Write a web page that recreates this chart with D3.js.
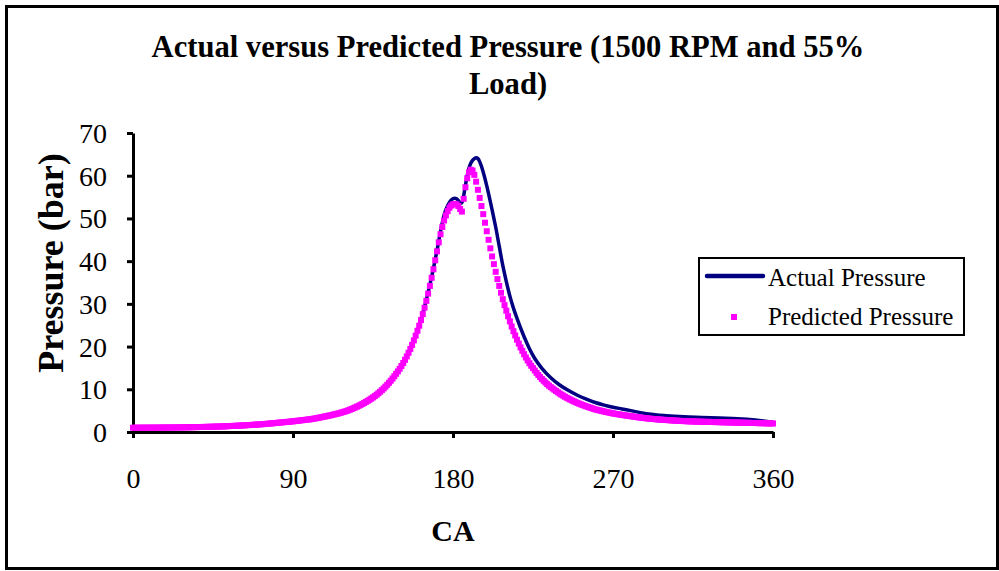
<!DOCTYPE html>
<html>
<head>
<meta charset="utf-8">
<script src="https://cdn.jsdelivr.net/npm/d3@7"></script>
<style>
  html, body { margin: 0; padding: 0; background: #fff; }
  svg { display: block; }
  text { font-family: "Liberation Serif", "Times New Roman", serif; fill: #000; }
</style>
</head>
<body>
<svg id="chart" width="999" height="571"></svg>
<script>
// Chart texts
const titleLines = ["Actual versus Predicted Pressure (1500 RPM and 55%", "Load)"];
const xTitle = "CA";
const yTitle = "Pressure (bar)";
const seriesNames = ["Actual Pressure", "Predicted Pressure"];

// Axis ticks
const xTicks = [0, 90, 180, 270, 360];
const yTicks = [0, 10, 20, 30, 40, 50, 60, 70];

// Measured cylinder pressure (bar) at the given crank angles (deg)
const actualCA = [0, 20, 40, 60, 80, 90, 100, 110, 120, 130, 140, 150, 155, 160, 163, 165, 167, 169, 171, 173,
  175, 177, 179, 181, 182, 183, 184, 185, 186, 187, 188, 189, 190, 191, 192, 193, 194, 195, 196, 197,
  198, 199, 200, 202, 204, 206, 208, 210, 212, 214, 216, 220, 223, 226, 230, 235, 240, 245, 250, 255,
  260, 265, 270, 275, 280, 290, 300, 310, 320, 330, 340, 350, 360];
const actualP = [1.0, 1.05, 1.19, 1.5, 2.1, 2.5, 3.0, 3.8, 4.9, 6.8, 9.8, 14.8, 18.55, 23.7, 27.8, 31.0, 34.5, 38.3, 42.5, 47.0,
  50.8, 53.0, 54.3, 54.7, 54.6, 54.2, 53.7, 53.6, 55.3, 57.8, 60.0, 61.8, 62.9, 63.6, 64.0, 64.2, 64.0, 63.3, 62.2, 60.8,
  59.3, 57.6, 55.8, 52.0, 48.0, 43.5, 39.0, 35.2, 31.8, 29.0, 26.6, 22.3, 19.5, 17.2, 14.9, 12.7, 11.0, 9.7, 8.6, 7.7,
  6.9, 6.3, 5.8, 5.4, 5.0, 4.2, 3.8, 3.55, 3.4, 3.25, 3.1, 2.8, 2.3];

// Predicted cylinder pressure (bar), one value per crank degree from 0 to 360
const predictedP = [
  1.00, 1.00, 1.00, 1.00, 1.00, 1.01, 1.01, 1.01, 1.01, 1.01,
  1.02, 1.02, 1.02, 1.02, 1.03, 1.03, 1.03, 1.04, 1.04, 1.04,
  1.05, 1.05, 1.06, 1.06, 1.07, 1.07, 1.08, 1.08, 1.09, 1.09,
  1.10, 1.11, 1.11, 1.12, 1.13, 1.14, 1.15, 1.16, 1.17, 1.18,
  1.19, 1.20, 1.21, 1.22, 1.23, 1.24, 1.25, 1.27, 1.28, 1.29,
  1.30, 1.32, 1.34, 1.36, 1.38, 1.40, 1.42, 1.44, 1.46, 1.48,
  1.50, 1.52, 1.54, 1.57, 1.59, 1.62, 1.64, 1.67, 1.70, 1.72,
  1.75, 1.78, 1.81, 1.84, 1.87, 1.91, 1.94, 1.98, 2.02, 2.06,
  2.10, 2.14, 2.18, 2.22, 2.26, 2.30, 2.34, 2.38, 2.42, 2.46,
  2.50, 2.55, 2.60, 2.65, 2.70, 2.75, 2.80, 2.85, 2.90, 2.95,
  3.00, 3.07, 3.14, 3.22, 3.30, 3.38, 3.46, 3.55, 3.64, 3.72,
  3.80, 3.90, 4.00, 4.10, 4.20, 4.30, 4.41, 4.53, 4.65, 4.77,
  4.90, 5.06, 5.22, 5.39, 5.57, 5.75, 5.94, 6.14, 6.35, 6.57,
  6.80, 7.04, 7.29, 7.55, 7.82, 8.10, 8.40, 8.72, 9.06, 9.42,
  9.80, 10.20, 10.62, 11.06, 11.52, 12.00, 12.52, 13.06, 13.62, 14.20,
  14.80, 15.45, 16.15, 16.90, 17.70, 18.55, 19.45, 20.40, 21.45, 22.55,
  23.70, 24.90, 26.20, 27.60, 29.10, 30.70, 32.40, 34.20, 36.10, 38.10,
  40.20, 42.30, 44.40, 46.30, 48.00, 49.50, 50.70, 51.70, 52.50, 53.00,
  53.30, 53.40, 53.30, 52.90, 52.20, 51.60, 54.60, 57.30, 59.40, 60.80,
  61.40, 61.20, 60.20, 58.60, 56.70, 54.80, 52.90, 51.00, 49.00, 47.00,
  45.00, 43.00, 41.10, 39.30, 37.50, 35.80, 34.20, 32.60, 31.10, 29.70,
  28.40, 27.10, 25.90, 24.70, 23.60, 22.60, 21.60, 20.70, 19.80, 19.00,
  18.20, 17.45, 16.75, 16.10, 15.50, 14.95, 14.40, 13.85, 13.35, 12.85,
  12.40, 12.00, 11.60, 11.20, 10.85, 10.50, 10.20, 9.90, 9.60, 9.30,
  9.00, 8.75, 8.50, 8.25, 8.02, 7.80, 7.59, 7.38, 7.18, 6.99,
  6.80, 6.63, 6.47, 6.31, 6.15, 6.00, 5.86, 5.72, 5.58, 5.44,
  5.30, 5.20, 5.10, 5.00, 4.90, 4.80, 4.71, 4.62, 4.53, 4.44,
  4.35, 4.28, 4.21, 4.14, 4.07, 4.00, 3.94, 3.88, 3.82, 3.76,
  3.70, 3.64, 3.58, 3.52, 3.46, 3.40, 3.35, 3.30, 3.25, 3.20,
  3.15, 3.11, 3.07, 3.03, 2.99, 2.95, 2.92, 2.89, 2.86, 2.83,
  2.80, 2.77, 2.75, 2.72, 2.70, 2.67, 2.65, 2.62, 2.60, 2.57,
  2.55, 2.53, 2.52, 2.50, 2.49, 2.47, 2.46, 2.44, 2.43, 2.41,
  2.40, 2.39, 2.38, 2.37, 2.36, 2.35, 2.34, 2.33, 2.32, 2.31,
  2.30, 2.29, 2.28, 2.27, 2.26, 2.25, 2.24, 2.23, 2.22, 2.21,
  2.20, 2.19, 2.18, 2.17, 2.16, 2.15, 2.14, 2.13, 2.12, 2.11,
  2.10, 2.09, 2.08, 2.07, 2.06, 2.05, 2.04, 2.03, 2.02, 2.01,
  2.00
];

const W = 999, H = 571;
const plot = { left: 133, right: 773, top: 133, bottom: 432 };
const navy = "#000080", magenta = "#FF00FF";

const svg = d3.select("#chart");

// outer frame
svg.append("rect")
  .attr("x", 6.5).attr("y", 6.5)
  .attr("width", W - 8).attr("height", H - 9)
  .attr("fill", "#fff").attr("stroke", "#000").attr("stroke-width", 3);

const x = d3.scaleLinear().domain([0, 360]).range([plot.left, plot.right]);
const y = d3.scaleLinear().domain([0, 70]).range([plot.bottom, plot.top]);

// title
svg.append("text")
  .attr("x", 508).attr("y", 57)
  .attr("text-anchor", "middle")
  .style("font-weight", "bold").style("font-size", "30.6px")
  .selectAll("tspan").data(titleLines).join("tspan")
  .attr("x", 508).attr("dy", (d, i) => i === 0 ? 0 : 37)
  .text(d => d);

// axes
const xAxis = svg.append("g")
  .attr("transform", `translate(0,${plot.bottom})`)
  .call(d3.axisBottom(x).tickValues(xTicks).tickSize(6).tickSizeOuter(0).tickPadding(30));
const yAxis = svg.append("g")
  .attr("transform", `translate(${plot.left},0)`)
  .call(d3.axisLeft(y).tickValues(yTicks).tickSize(6).tickSizeOuter(0).tickPadding(20));

[xAxis, yAxis].forEach(g => {
  g.select(".domain").attr("stroke", "#000").attr("stroke-width", 3);
  g.selectAll(".tick line").attr("stroke", "#000").attr("stroke-width", 3);
  g.selectAll(".tick text")
    .style("font-family", "'Liberation Serif', 'Times New Roman', serif")
    .style("font-size", "28px").attr("fill", "#000");
});
xAxis.selectAll(".tick text").attr("dy", "0.71em");
yAxis.selectAll(".tick text").attr("dy", "0.34em");

// axis titles
svg.append("text")
  .attr("x", 453).attr("y", 541)
  .attr("text-anchor", "middle")
  .style("font-weight", "bold").style("font-size", "30px")
  .text(xTitle);
svg.append("text")
  .attr("transform", `translate(63,263) rotate(-90)`)
  .attr("text-anchor", "middle")
  .style("font-weight", "bold").style("font-size", "36px")
  .text(yTitle);

// actual pressure line
const actual = actualCA.map((c, i) => ({ ca: c, p: actualP[i] }));
svg.append("path")
  .datum(actual)
  .attr("fill", "none")
  .attr("stroke", navy)
  .attr("stroke-width", 3.5)
  .attr("stroke-linejoin", "round")
  .attr("d", d3.line().x(d => x(d.ca)).y(d => y(d.p)).curve(d3.curveMonotoneX));

// predicted pressure markers
const sq = 6;
svg.append("g")
  .selectAll("rect")
  .data(predictedP)
  .join("rect")
  .attr("x", (d, i) => x(i) - sq / 2)
  .attr("y", d => y(d) - sq / 2)
  .attr("width", sq).attr("height", sq)
  .attr("fill", magenta);

// legend
const lg = svg.append("g");
lg.append("rect")
  .attr("x", 699).attr("y", 258)
  .attr("width", 265).attr("height", 77)
  .attr("fill", "#fff").attr("stroke", "#000").attr("stroke-width", 2);
lg.append("line")
  .attr("x1", 707).attr("x2", 763).attr("y1", 276).attr("y2", 276)
  .attr("stroke", navy).attr("stroke-width", 4.5).attr("stroke-linecap", "round");
lg.append("rect")
  .attr("x", 734 - sq / 2).attr("y", 317 - sq / 2)
  .attr("width", sq).attr("height", sq)
  .attr("fill", magenta);
lg.selectAll("text").data(seriesNames).join("text")
  .attr("x", 768).attr("y", (d, i) => 286 + i * 39)
  .style("font-size", "25px")
  .text(d => d);
</script>
</body>
</html>
